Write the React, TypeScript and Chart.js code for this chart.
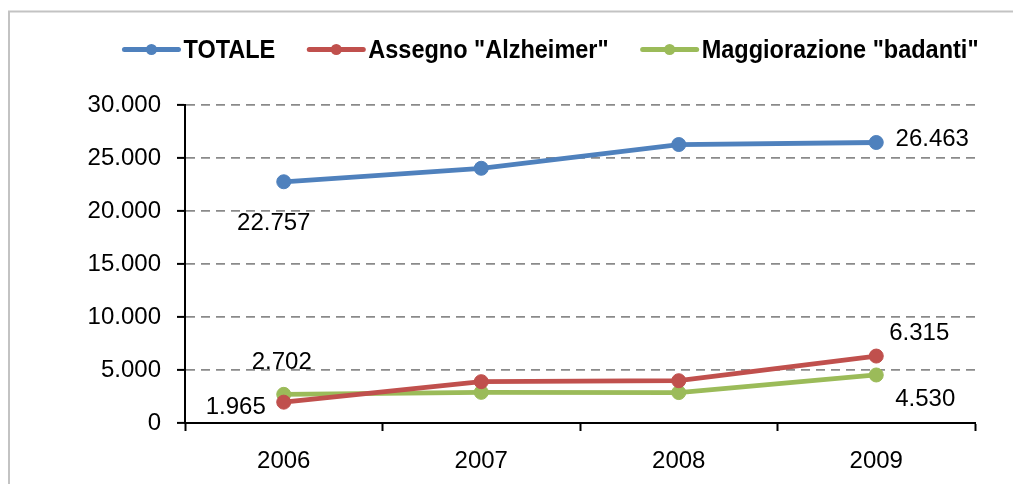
import React, { useEffect, useRef } from "react";
import { Chart, registerables } from "chart.js";

Chart.register(...registerables);

// ---- Data ----
const categories = ["2006", "2007", "2008", "2009"];
const seriesNames = ["TOTALE", 'Assegno "Alzheimer"', 'Maggiorazione "badanti"'];
const totale = [22757, 24030, 26270, 26463];
const alzheimer = [1965, 3900, 3990, 6315];
const badanti = [2702, 2890, 2870, 4530];
const yTickValues = [0, 5000, 10000, 15000, 20000, 25000, 30000];
// which points carry a value label (first and last year)
const labelledIndexes = [0, 3];

// ---- Style ----
const colors = ["#4F81BD", "#C0504D", "#9BBB59"];
const FONT = "'Liberation Sans', Arial, sans-serif";
// label offsets (px) relative to each labelled point: [series][labelIndex]
const labelOffsets: number[][][] = [
  [[-10, 41], [56, -4]],
  [[-48, 4], [43, -24]],
  [[-2, -33], [49, 23]],
];

const fmt = (v: number) =>
  String(Math.round(v)).replace(/\B(?=(\d{3})+(?!\d))/g, ".");

const frameAndLegend = {
  id: "frameAndLegend",
  beforeDraw(chart: any) {
    const ctx = chart.ctx;
    ctx.save();
    ctx.fillStyle = "#ffffff";
    ctx.fillRect(0, 0, chart.width, chart.height);
    ctx.strokeStyle = "#c3c3c3";
    ctx.lineWidth = 2;
    ctx.strokeRect(9, 11.5, chart.width + 50, chart.height + 50);
    ctx.restore();
  },
  afterDraw(chart: any) {
    const ctx = chart.ctx;
    ctx.save();
    const lineLen = 58;
    const gapText = 3;
    const gapItem = 32;
    const sx = 0.94;
    ctx.font = `bold 25px ${FONT}`;
    const widths = chart.data.datasets.map(
      (d: any) => ctx.measureText(d.label).width * sx
    );
    let total = 0;
    widths.forEach((w: number, i: number) => {
      total += lineLen + gapText + w + (i < widths.length - 1 ? gapItem : 0);
    });
    let x = 550.5 - total / 2;
    const yLine = 49.5;
    const yBase = 58;
    chart.data.datasets.forEach((d: any, i: number) => {
      ctx.strokeStyle = d.borderColor;
      ctx.lineWidth = 5;
      ctx.lineCap = "round";
      ctx.beginPath();
      ctx.moveTo(x + 2, yLine);
      ctx.lineTo(x + lineLen - 2, yLine);
      ctx.stroke();
      ctx.fillStyle = d.borderColor;
      ctx.beginPath();
      ctx.arc(x + lineLen / 2, yLine, 5.5, 0, Math.PI * 2);
      ctx.fill();
      ctx.fillStyle = "#000000";
      ctx.textBaseline = "alphabetic";
      ctx.textAlign = "left";
      ctx.save();
      ctx.translate(x + lineLen + gapText, yBase);
      ctx.scale(sx, 1);
      ctx.fillText(d.label, 0, 0);
      ctx.restore();
      x += lineLen + gapText + widths[i] + gapItem;
    });
    ctx.restore();
  },
  afterDatasetsDraw(chart: any) {
    const ctx = chart.ctx;
    ctx.save();
    ctx.font = `24px ${FONT}`;
    ctx.fillStyle = "#000000";
    ctx.textAlign = "center";
    ctx.textBaseline = "middle";
    chart.data.datasets.forEach((d: any, i: number) => {
      const meta = chart.getDatasetMeta(i);
      labelledIndexes.forEach((idx, k) => {
        const el = meta.data[idx];
        const [dx, dy] = labelOffsets[i][k];
        ctx.fillText(fmt(d.data[idx]), el.x + dx, el.y + dy + 1);
      });
    });
    ctx.restore();
  },
};

export default function App() {
  const ref = useRef<HTMLCanvasElement | null>(null);

  useEffect(() => {
    if (!ref.current) return;
    const seriesData = [totale, alzheimer, badanti];
    const chart = new Chart(ref.current, {
      type: "line",
      data: {
        labels: categories,
        datasets: seriesData.map((arr, i) => ({
          label: seriesNames[i],
          data: arr,
          borderColor: colors[i],
          backgroundColor: colors[i],
          pointBackgroundColor: colors[i],
          pointBorderColor: colors[i],
          borderWidth: 4.8,
          pointRadius: 7,
          pointBorderWidth: 1,
          pointHoverRadius: 7,
          tension: 0,
          fill: false,
        })),
      },
      options: {
        responsive: false,
        animation: false,
        events: [],
        layout: { padding: { left: 0, right: 38, top: 105, bottom: 0 } },
        font: { family: FONT } as any,
        plugins: {
          legend: { display: false },
          tooltip: { enabled: false },
          title: { display: false },
        },
        scales: {
          x: {
            type: "category",
            offset: true,
            grid: {
              offset: true,
              drawOnChartArea: false,
              drawTicks: true,
              tickLength: 8,
              tickColor: "#000000",
              tickWidth: 2,
            },
            border: { display: true, color: "#000000", width: 2 },
            ticks: {
              color: "#000000",
              font: { family: FONT, size: 24 },
              padding: 16,
              maxRotation: 0,
              autoSkip: false,
            },
            afterFit: (s: any) => {
              s.height = 61;
            },
          },
          y: {
            type: "linear",
            min: 0,
            max: 30000,
            afterBuildTicks: (s: any) => {
              s.ticks = yTickValues.map((v) => ({ value: v }));
            },
            grid: {
              color: (c: any) =>
                c.tick && c.tick.value === 0 ? "rgba(0,0,0,0)" : "#8a8a8a",
              lineWidth: 1.8,
              drawTicks: true,
              tickLength: 8,
              tickColor: "#000000",
              tickWidth: 2,
              tickBorderDash: [],
            } as any,
            border: { display: true, color: "#000000", width: 2, dash: [9, 6] },
            ticks: {
              color: "#000000",
              font: { family: FONT, size: 24 },
              padding: 16,
              callback: (v: any) => fmt(Number(v)),
            },
            afterFit: (s: any) => {
              s.width = 185;
            },
          },
        },
      },
      plugins: [frameAndLegend],
    });
    return () => chart.destroy();
  }, []);

  return (
    <div style={{ position: "absolute", left: 0, top: 0, width: 1013, height: 484 }}>
      <canvas ref={ref} width={1013} height={484} style={{ display: "block" }} />
    </div>
  );
}
